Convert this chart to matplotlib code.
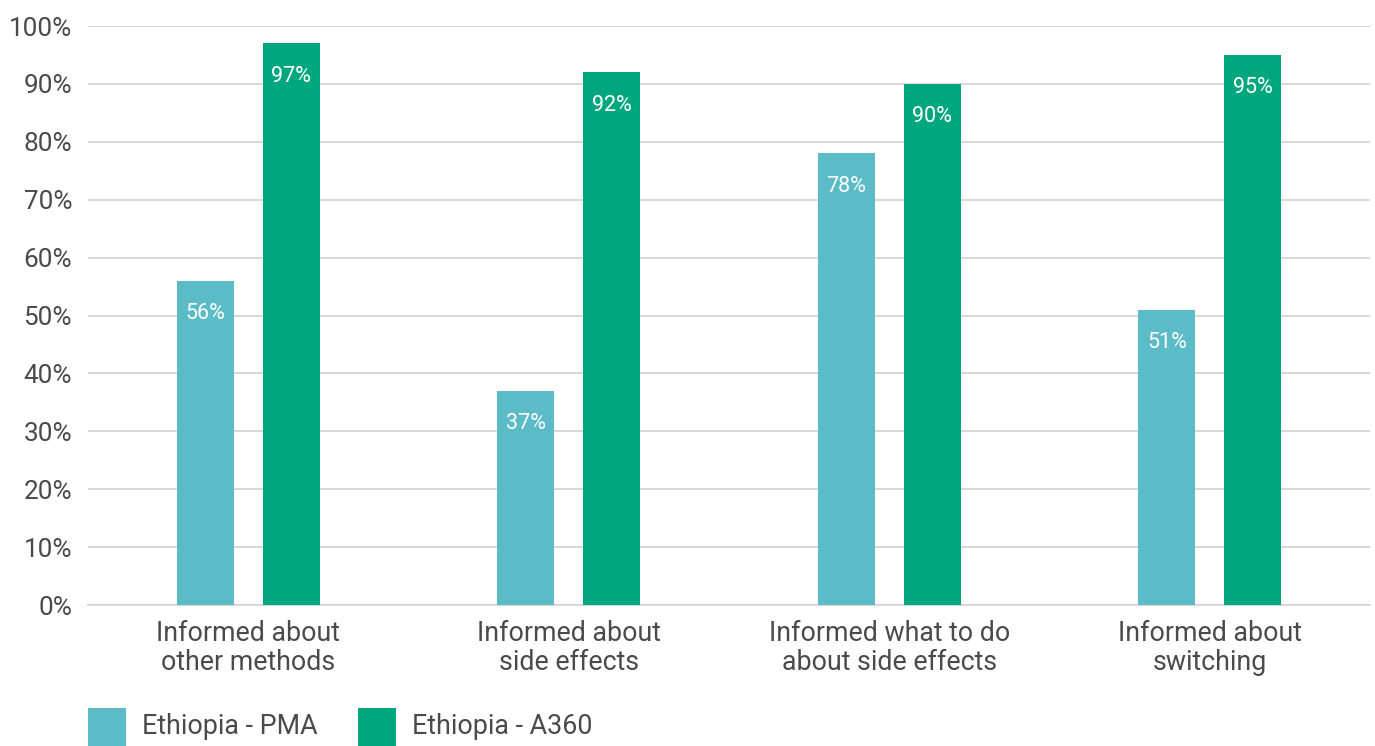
import matplotlib

matplotlib.use("Agg")
import matplotlib.pyplot as plt
import numpy as np
from matplotlib.patches import Rectangle
from matplotlib.ticker import FuncFormatter, MultipleLocator

plt.rcParams["font.family"] = ["Roboto", "DejaVu Sans"]

CATEGORIES = [
    "Informed about\nother methods",
    "Informed about\nside effects",
    "Informed what to do\nabout side effects",
    "Informed about\nswitching",
]
SERIES = ["Ethiopia - PMA", "Ethiopia - A360"]
PMA = [56, 37, 78, 51]
A360 = [97, 92, 90, 95]
COLORS = ["#5bbbc7", "#00a77e"]
TEXT = "#4a4a4a"
GRID = "#d4d4d4"

fig = plt.figure(figsize=(13.75, 7.46), dpi=100)
ax = fig.add_axes([0.064, 0.189, 0.9325, 0.776])

x = np.arange(len(CATEGORIES))
width = 0.178
offset = 0.134
for values, color, shift in [(PMA, COLORS[0], -offset), (A360, COLORS[1], offset)]:
    bars = ax.bar(x + shift, values, width=width, color=color, zorder=3)
    for bar, value in zip(bars, values):
        ax.annotate(
            f"{value}%",
            (bar.get_x() + bar.get_width() / 2, value),
            xytext=(0, -23.5),
            textcoords="offset points",
            ha="center",
            va="center",
            color="white",
            fontsize=15.5,
            zorder=4,
        )

ax.set_xlim(-0.5, len(CATEGORIES) - 0.5)
ax.set_ylim(0, 100)
ax.yaxis.set_major_locator(MultipleLocator(10))
ax.yaxis.set_major_formatter(FuncFormatter(lambda v, _: f"{v:.0f}%"))
ax.set_xticks(x, CATEGORIES)
ax.tick_params(axis="y", length=0, pad=11.5, labelsize=18.8, labelcolor=TEXT)
ax.tick_params(axis="x", length=0, pad=10.5, labelsize=19.3, labelcolor=TEXT)
for label in ax.get_xticklabels():
    label.set_linespacing(1.1)

ax.grid(axis="y", color=GRID, linewidth=1.3, zorder=0)
for side in ["top", "right", "left"]:
    ax.spines[side].set_visible(False)
ax.spines["bottom"].set_color(GRID)
ax.spines["bottom"].set_linewidth(1.3)

# legend drawn as plain squares along the bottom edge
W, H = fig.get_size_inches() * fig.dpi
for (left, name, color) in [(88, SERIES[0], COLORS[0]), (358, SERIES[1], COLORS[1])]:
    fig.add_artist(Rectangle((left / W, 0), 38 / W, 38 / H, transform=fig.transFigure,
                             facecolor=color, edgecolor="none"))
    fig.text((left + 54) / W, 19.5 / H, name, ha="left", va="center", fontsize=19.4, color=TEXT)

fig.savefig("out.png", dpi=100)
